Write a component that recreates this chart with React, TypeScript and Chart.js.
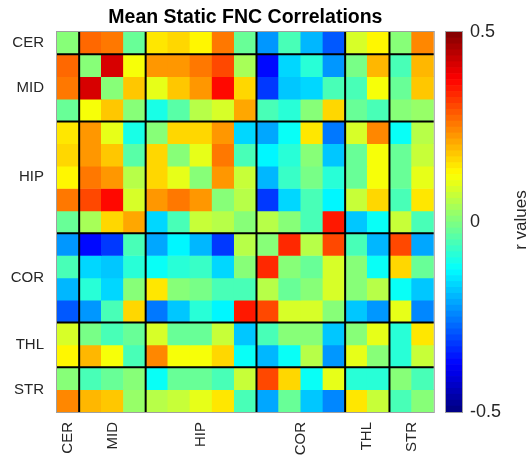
import React, { useEffect, useRef } from "react";
import { Chart, registerables } from "chart.js";

Chart.register(...registerables);

// Network groups shown on the axes
const groupNames = ["CER", "MID", "HIP", "COR", "THL", "STR"];
const groupSizes = [1, 3, 5, 4, 2, 2];

// Component labels (17 components)
const componentLabels = [
  "CER1",
  "MID1", "MID2", "MID3",
  "HIP1", "HIP2", "HIP3", "HIP4", "HIP5",
  "COR1", "COR2", "COR3", "COR4",
  "THL1", "THL2",
  "STR1", "STR2",
];

// Mean static FNC correlation matrix (rows = components)
const rowCER1 = [0, 0.28, 0.25, -0.03, 0.15, 0.16, 0.14, 0.25, -0.03, -0.23, -0.06, -0.19, -0.29, 0.08, 0.125, 0, 0.24];
const rowMID1 = [0.28, 0, 0.41, 0.11, 0.22, 0.22, 0.26, 0.31, 0.04, -0.375, -0.16, -0.09, -0.23, -0.01, 0.2, -0.05, 0.19];
const rowMID2 = [0.25, 0.41, 0, 0.18, 0.1, 0.18, 0.22, 0.36, 0.17, -0.32, -0.18, -0.17, -0.06, -0.06, 0.11, -0.02, 0.18];
const rowMID3 = [-0.03, 0.11, 0.18, 0, -0.1, -0.04, 0.05, 0.09, 0.21, -0.06, -0.09, 0, 0.16, -0.02, -0.05, 0, 0.02];
const rowHIP1 = [0.15, 0.22, 0.1, -0.1, 0, 0.16, 0.16, 0.22, -0.17, -0.21, -0.11, 0.15, -0.26, 0.09, 0.24, -0.11, 0.05];
const rowHIP2 = [0.16, 0.22, 0.18, -0.04, 0.16, 0, 0.1, 0.25, -0.06, -0.14, -0.09, 0, -0.18, -0.03, 0.11, -0.03, 0.07];
const rowHIP3 = [0.14, 0.26, 0.22, 0.05, 0.16, 0.1, 0, 0.22, 0.07, -0.2, -0.07, -0.01, -0.08, -0.03, 0.11, -0.03, 0.095];
const rowHIP4 = [0.25, 0.31, 0.36, 0.09, 0.22, 0.25, 0.22, 0, 0.05, -0.32, -0.17, -0.05, -0.13, 0.07, 0.16, -0.05, 0.15];
const rowHIP5 = [-0.03, 0.04, 0.17, 0.21, -0.17, -0.06, 0.07, 0.05, 0, 0.05, 0, -0.05, 0.345, -0.18, -0.125, 0.07, -0.05];
const rowCOR1 = [-0.23, -0.375, -0.32, -0.06, -0.21, -0.14, -0.2, -0.32, 0.05, 0, 0.33, 0.06, 0.3, -0.06, -0.2, 0.31, -0.21];
const rowCOR2 = [-0.06, -0.16, -0.18, -0.09, -0.11, -0.09, -0.07, -0.17, 0, 0.33, 0, -0.03, 0.09, 0.01, -0.125, 0.17, -0.03];
const rowCOR3 = [-0.19, -0.09, -0.17, 0, 0.15, 0, -0.01, -0.05, -0.05, 0.06, -0.03, 0, 0.08, 0, 0.05, -0.11, -0.18];
const rowCOR4 = [-0.29, -0.23, -0.06, 0.16, -0.26, -0.18, -0.08, -0.13, 0.345, 0.3, 0.09, 0.08, 0, -0.18, -0.23, 0.095, -0.24];
const rowTHL1 = [0.08, -0.01, -0.06, -0.02, 0.09, -0.03, -0.03, 0.07, -0.18, -0.06, 0.01, 0, -0.18, 0, 0.1, -0.09, 0.15];
const rowTHL2 = [0.125, 0.2, 0.11, -0.05, 0.24, 0.11, 0.11, 0.16, -0.125, -0.2, -0.125, 0.05, -0.23, 0.1, 0, -0.09, 0.07];
const rowSTR1 = [0, -0.05, -0.02, 0, -0.11, -0.03, -0.03, -0.05, 0.07, 0.31, 0.17, -0.11, 0.095, -0.09, -0.09, 0, -0.06];
const rowSTR2 = [0.24, 0.19, 0.18, 0.02, 0.05, 0.07, 0.095, 0.15, -0.05, -0.21, -0.03, -0.18, -0.24, 0.15, 0.07, -0.06, 0];

const matrixRows = [
  rowCER1, rowMID1, rowMID2, rowMID3, rowHIP1, rowHIP2, rowHIP3, rowHIP4, rowHIP5,
  rowCOR1, rowCOR2, rowCOR3, rowCOR4, rowTHL1, rowTHL2, rowSTR1, rowSTR2,
];

// Colour bar
const colorbarMin = -0.5;
const colorbarMax = 0.5;
const colorbarTicks = [-0.5, 0, 0.5];
const colorbarLabel = "r values";
const titleText = "Mean Static FNC Correlations";

const NCOLORS = 64;

function jet(v: number): string {
  let t = (v - colorbarMin) / (colorbarMax - colorbarMin);
  t = Math.max(0, Math.min(1, t));
  const idx = Math.min(NCOLORS - 1, Math.floor(t * NCOLORS));
  const q = (idx + 0.5) / NCOLORS;
  const c = (x: number) => Math.max(0, Math.min(1, x));
  const r = c(1.5 - Math.abs(4 * q - 3));
  const g = c(1.5 - Math.abs(4 * q - 2));
  const b = c(1.5 - Math.abs(4 * q - 1));
  return `rgb(${Math.round(r * 255)},${Math.round(g * 255)},${Math.round(b * 255)})`;
}

const FONT = "'Liberation Sans', Arial, Helvetica, sans-serif";
const TEXT = "#262626";

export default function App() {
  const mainRef = useRef<HTMLCanvasElement>(null);
  const barRef = useRef<HTMLCanvasElement>(null);

  useEffect(() => {
    const n = componentLabels.length;
    const centers: number[] = [];
    const bounds: number[] = [];
    let acc = 0;
    groupSizes.forEach((s) => {
      centers.push(acc + s / 2);
      acc += s;
      bounds.push(acc);
    });
    bounds.pop();

    const groupLines = {
      id: "groupLines",
      afterDatasetsDraw(chart: any) {
        const { ctx, chartArea: a, scales } = chart;
        ctx.save();
        ctx.strokeStyle = "#000";
        ctx.lineWidth = 2;
        bounds.forEach((b) => {
          // category scale: index i is centred on i, so a boundary b sits at b - 0.5
          const x = scales.x.getPixelForValue(b - 0.5);
          const y = scales.y.getPixelForValue(b);
          ctx.beginPath();
          ctx.moveTo(x, a.top);
          ctx.lineTo(x, a.bottom);
          ctx.stroke();
          ctx.beginPath();
          ctx.moveTo(a.left, y);
          ctx.lineTo(a.right, y);
          ctx.stroke();
        });
        ctx.strokeStyle = "#a0a0a0";
        ctx.lineWidth = 1;
        ctx.strokeRect(a.left - 0.5, a.top - 0.5, a.right - a.left + 1, a.bottom - a.top + 1);
        ctx.restore();
      },
    };

    const main = new Chart(mainRef.current as HTMLCanvasElement, {
      type: "bar",
      data: {
        labels: componentLabels,
        datasets: matrixRows.map((row, i) => ({
          label: componentLabels[i],
          data: row.map(() => [i, i + 1]),
          backgroundColor: row.map((v) => jet(v)),
          borderWidth: 0,
          barPercentage: 1,
          categoryPercentage: 1,
          xAxisID: "x",
          yAxisID: "y",
        })),
      } as any,
      options: {
        responsive: false,
        animation: false,
        layout: { padding: { left: 0, right: 3, top: 0, bottom: 0 } },
        plugins: {
          legend: { display: false },
          tooltip: { enabled: false },
          title: {
            display: true,
            text: titleText,
            fullSize: false,
            color: "#000",
            font: { family: FONT, size: 19.5, weight: "bold" },
            padding: { top: 5.8, bottom: 2.8 },
          },
        },
        scales: {
          x: {
            type: "category",
            stacked: true,
            offset: true,
            afterBuildTicks: (s: any) => {
              s.ticks = centers.map((v) => ({ value: v - 0.5 }));
            },
            afterFit: (s: any) => {
              s.height = 50;
            },
            grid: { display: false, drawTicks: false },
            border: { display: false },
            ticks: {
              minRotation: 90,
              maxRotation: 90,
              padding: 10,
              autoSkip: false,
              color: TEXT,
              font: { family: FONT, size: 15 },
              callback: (_v: any, i: number) => groupNames[i],
            },
          },
          y: {
            type: "linear",
            min: 0,
            max: n,
            reverse: true,
            afterBuildTicks: (s: any) => {
              s.ticks = centers.map((v) => ({ value: v }));
            },
            afterFit: (s: any) => {
              s.width = 57;
            },
            grid: { display: false, drawTicks: false },
            border: { display: false },
            ticks: {
              padding: 13,
              autoSkip: false,
              color: TEXT,
              font: { family: FONT, size: 15 },
              callback: (_v: any, i: number) => groupNames[i],
            },
          },
        },
      } as any,
      plugins: [groupLines],
    });

    const levels = Array.from({ length: NCOLORS }, (_, k) => colorbarMin + (k * (colorbarMax - colorbarMin)) / NCOLORS);
    const step = (colorbarMax - colorbarMin) / NCOLORS;

    const cbDecor = {
      id: "cbDecor",
      afterDraw(chart: any) {
        const { ctx, chartArea: a } = chart;
        ctx.save();
        ctx.strokeStyle = "#a0a0a0";
        ctx.lineWidth = 1;
        ctx.strokeRect(a.left - 0.5, a.top - 0.5, a.right - a.left + 1, a.bottom - a.top + 1);
        ctx.fillStyle = TEXT;
        ctx.font = `17px ${FONT}`;
        ctx.textAlign = "center";
        ctx.textBaseline = "middle";
        ctx.translate(a.right + 59, (a.top + a.bottom) / 2 - 2);
        ctx.rotate(-Math.PI / 2);
        ctx.fillText(colorbarLabel, 0, 0);
        ctx.restore();
      },
    };

    const bar = new Chart(barRef.current as HTMLCanvasElement, {
      type: "bar",
      data: {
        labels: [""],
        datasets: levels.map((lo) => ({
          data: [[lo, lo + step]],
          backgroundColor: jet(lo + step / 2),
          borderWidth: 0,
          barPercentage: 1,
          categoryPercentage: 1,
        })),
      } as any,
      options: {
        responsive: false,
        animation: false,
        layout: { padding: { left: 6, right: 0, top: 32, bottom: 50 } },
        plugins: { legend: { display: false }, tooltip: { enabled: false } },
        scales: {
          x: { type: "category", stacked: true, display: false },
          y: {
            type: "linear",
            position: "right",
            min: colorbarMin,
            max: colorbarMax,
            afterBuildTicks: (s: any) => {
              s.ticks = colorbarTicks.map((v) => ({ value: v }));
            },
            afterFit: (s: any) => {
              s.width = 68;
            },
            grid: { display: false, drawTicks: false },
            border: { display: false },
            ticks: {
              padding: 8,
              color: TEXT,
              font: { family: FONT, size: 18 },
              callback: (v: any) => String(v),
            },
          },
        },
      } as any,
      plugins: [cbDecor],
    });

    return () => {
      main.destroy();
      bar.destroy();
    };
  }, []);

  return (
    <div style={{ position: "fixed", left: 0, top: 0, width: 530, height: 462, background: "#fff" }}>
      <canvas ref={mainRef} width={440} height={462} style={{ position: "absolute", left: 0, top: 0 }} />
      <canvas ref={barRef} width={90} height={462} style={{ position: "absolute", left: 440, top: 0 }} />
    </div>
  );
}
